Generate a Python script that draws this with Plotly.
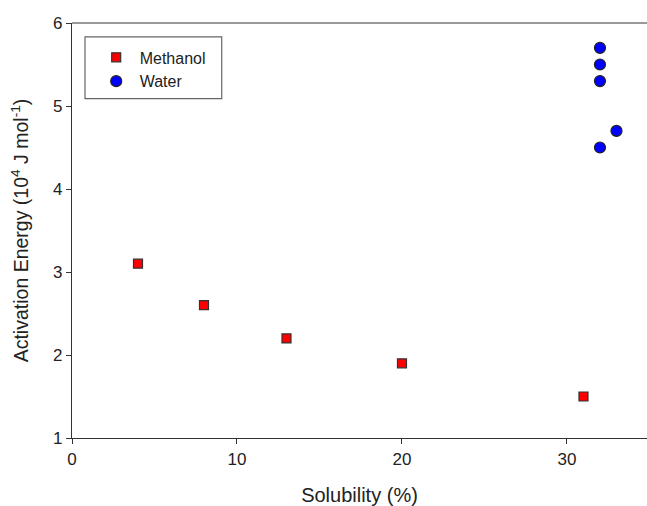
import plotly.graph_objects as go

meth_x = [4, 8, 13, 20, 31]
meth_y = [3.1, 2.6, 2.2, 1.9, 1.5]
water_x = [32, 32, 32, 33, 32]
water_y = [5.7, 5.5, 5.3, 4.7, 4.5]

x_ticks = [0, 10, 20, 30]
y_ticks = [1, 2, 3, 4, 5, 6]

font = "Liberation Sans, Arial, sans-serif"

fig = go.Figure()
fig.add_trace(go.Scatter(x=meth_x, y=meth_y, mode="markers", name="Methanol",
                         marker=dict(symbol="square", size=9, color="#ff0000",
                                     line=dict(color="#333333", width=1.2))))
fig.add_trace(go.Scatter(x=water_x, y=water_y, mode="markers", name="Water",
                         marker=dict(symbol="circle", size=11, color="#0000ff",
                                     line=dict(color="#222222", width=1.2))))

fig.update_layout(
    width=647, height=506,
    margin=dict(l=72, r=0, t=23, b=68),
    plot_bgcolor="white", paper_bgcolor="white",
    font=dict(family=font, color="#222222"),
    showlegend=True,
    legend=dict(x=0.036, y=0.958, xanchor="left", yanchor="top",
                bgcolor="rgba(0,0,0,0)", borderwidth=0,
                font=dict(size=16, family=font, color="#222222"),
                tracegroupgap=0, itemwidth=37),
    xaxis=dict(range=[0, 34.85], tickvals=x_ticks, showgrid=False, zeroline=False,
               showline=True, linecolor="#333333", linewidth=1.2,
               ticks="outside", ticklen=5, tickcolor="#333333",
               tickfont=dict(size=17, family=font, color="#222222"),
               title=dict(text="Solubility (%)", font=dict(size=20, family=font, color="#222222"),
                          standoff=20)),
    yaxis=dict(range=[1, 6], tickvals=y_ticks, showgrid=False, zeroline=False,
               showline=True, linecolor="#333333", linewidth=1.2,
               ticks="outside", ticklen=5, tickcolor="#333333",
               tickfont=dict(size=17, family=font, color="#222222"),
               title=dict(text="Activation Energy (10<sup>4</sup> J mol<sup>-1</sup>)",
                          font=dict(size=19.5, family=font, color="#222222"), standoff=19)),
    shapes=[
        dict(type="line", xref="paper", yref="paper", x0=0, x1=1, y0=1, y1=1,
             line=dict(color="#777777", width=1.5)),
        dict(type="rect", xref="paper", yref="paper", x0=0.0226, x1=0.2604,
             y0=0.818, y1=0.9666, line=dict(color="#666666", width=1.2)),
    ],
)

fig.write_html("out.html")
